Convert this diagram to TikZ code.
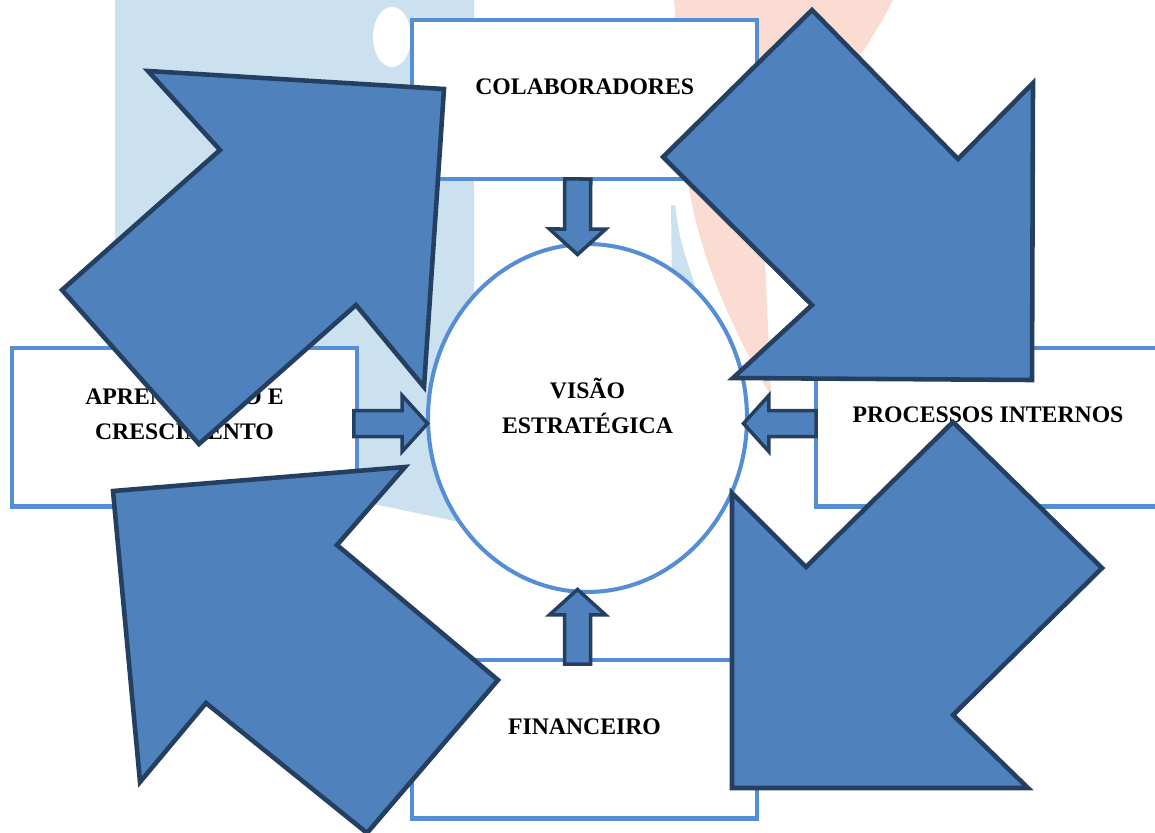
\documentclass[tikz,border=0pt]{standalone}
\usepackage{fontspec}
\setmainfont{Liberation Serif}
\usepackage{tikz}
\usetikzlibrary{calc,shapes.geometric}
\definecolor{boxline}{HTML}{558ED5}
\definecolor{arrowfill}{HTML}{4F81BD}
\definecolor{arrowline}{HTML}{243F60}
\definecolor{washblue}{HTML}{CCE1EF}
\definecolor{washpink}{HTML}{FADCD2}
\tikzset{
  perspbox/.style={draw=boxline,fill=white,line width=2.3pt,
                   minimum width=6.9cm,minimum height=3.18cm,
                   inner sep=0pt,outer sep=0pt},
  visionring/.style={ellipse,draw=boxline,fill=white,line width=2.3pt,
                     minimum width=6.38cm,minimum height=6.96cm,
                     inner sep=0pt,outer sep=0pt},
  boxlabel/.style={font=\fontsize{13.5}{20}\selectfont\bfseries,
                   align=center,yshift=0.25cm},
  pusharr/.style={draw=arrowline,fill=arrowfill,line width=2pt},
  cyclearr/.style={draw=arrowline,fill=arrowfill,line width=2.6pt}
}
\newcommand{\pusharrow}[2]{%
  \coordinate (#1-h) at ($(#2)!14.5pt!(#1)$);
  \draw[pusharr] ($(#1)!7.4pt!90:(#2)$) -- ($(#1-h)!7.4pt!90:(#2)$)
    -- ($(#1-h)!16pt!90:(#2)$) -- (#2) -- ($(#1-h)!16pt!-90:(#2)$)
    -- ($(#1-h)!7.4pt!-90:(#2)$) -- ($(#1)!7.4pt!-90:(#2)$) -- cycle;}

\begin{document}
\begin{tikzpicture}[x=0.02cm,y=-0.02cm]
  \useasboundingbox (0,0) rectangle (1155,832);
  \clip (0,0) rectangle (1155,832);

  \fill[washblue] (115,0) -- (474,0) -- (474,525) -- (115,450) -- cycle;
  \fill[white] (392,37) ellipse [x radius=0.38cm,y radius=0.6cm];
  \fill[washpink] (674,0) -- (893,0) .. controls (865,60) and (775,160) .. (765,260)
    -- (771,396) .. controls (735,335) and (700,260) .. (688,183) -- cycle;
  \fill[washblue] (671,205) -- (675,205) .. controls (680,240) .. (695,285) -- (672,285) -- cycle;

  \node[perspbox,label={[boxlabel]center:COLABORADORES}] (colab) at (584.75,99.5) {};
  \node[perspbox,label={[boxlabel]center:{APRENDIZADO E\\CRESCIMENTO}}] (apr) at (184.5,427) {};
  \node[perspbox,label={[boxlabel]center:PROCESSOS INTERNOS}] (proc) at (988,427) {};
  \node[perspbox,label={[boxlabel]center:FINANCEIRO}] (fin) at (584.5,739) {};
  \node[visionring,label={[boxlabel]center:{VISÃO\\ESTRATÉGICA}}] (vision) at (587.5,418) {};

  \coordinate (topA) at ($(colab.south)+(-7,0)$);
  \coordinate (topB) at ($(vision.north)+(-10,10.5)$);
  \coordinate (botA) at ($(fin.north)+(-7,4.5)$);
  \coordinate (botB) at ($(vision.south)+(-10,-2.5)$);
  \coordinate (lftA) at ($(apr.east)+(-3,-3.5)$);
  \coordinate (lftB) at ($(vision.west)+(-0.5,5.5)$);
  \coordinate (rgtA) at ($(proc.west)+(0.5,-3.5)$);
  \coordinate (rgtB) at ($(vision.east)+(-3.5,5.5)$);
  \pusharrow{topA}{topB}
  \pusharrow{botA}{botB}
  \pusharrow{lftA}{lftB}
  \pusharrow{rgtA}{rgtB}

  \draw[cyclearr] (148,71) -- (444,89) -- (424,387) -- (356,305) -- (199,444)
    -- (62,290) -- (220,150) -- cycle;
  \draw[cyclearr] (812,10) -- (958,159) -- (1033,83) -- (1032,380) -- (733,378)
    -- (812,305) -- (663,157) -- cycle;
  \draw[cyclearr] (953,422) -- (1102,568) -- (953,715) -- (1028,788) -- (732,788)
    -- (732,493) -- (806,567) -- cycle;
  \draw[cyclearr] (113,491) -- (405,467) -- (337,545) -- (498,680) -- (367,833)
    -- (206,703) -- (140,782) -- cycle;
\end{tikzpicture}
\end{document}
